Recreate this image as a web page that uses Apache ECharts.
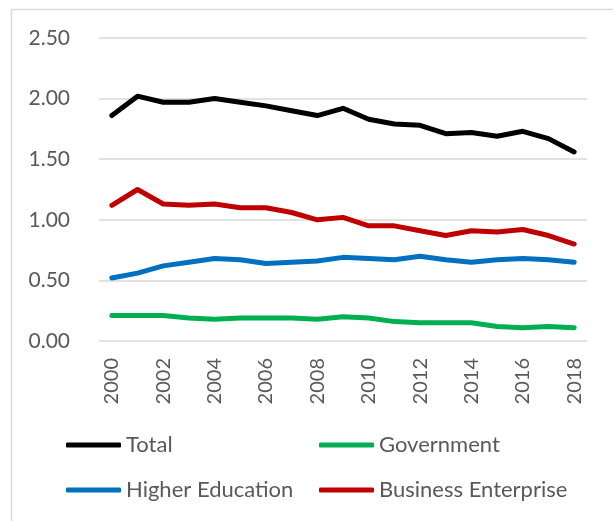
<!DOCTYPE html>
<html>
<head>
<meta charset="utf-8">
<script src="https://cdn.jsdelivr.net/npm/echarts@6/dist/echarts.min.js"></script>
<style>
  html, body { margin: 0; padding: 0; background: #ffffff; }
  #chart { width: 613px; height: 521px; }
</style>
</head>
<body>
<div id="chart"></div>
<script>
// R&D expenditure by sector (% of GDP), 2000–2018
const years = ['2000','2001','2002','2003','2004','2005','2006','2007','2008','2009',
               '2010','2011','2012','2013','2014','2015','2016','2017','2018'];
const total      = [1.86,2.02,1.97,1.97,2.00,1.97,1.94,1.90,1.86,1.92,1.83,1.79,1.78,1.71,1.72,1.69,1.73,1.67,1.56];
const government = [0.21,0.21,0.21,0.19,0.18,0.19,0.19,0.19,0.18,0.20,0.19,0.16,0.15,0.15,0.15,0.12,0.11,0.12,0.11];
const higherEd   = [0.52,0.56,0.62,0.65,0.68,0.67,0.64,0.65,0.66,0.69,0.68,0.67,0.70,0.67,0.65,0.67,0.68,0.67,0.65];
const business   = [1.12,1.25,1.13,1.12,1.13,1.10,1.10,1.06,1.00,1.02,0.95,0.95,0.91,0.87,0.91,0.90,0.92,0.87,0.80];
const yTicks = { min: 0, max: 2.5, interval: 0.5 };

const FONT = 'Lato';
const TEXT = '#595959';
const FRAME = '#d9d9d9';

const seriesDefs = [
  { name: 'Total', data: total, color: '#000000' },
  { name: 'Government', data: government, color: '#00B050' },
  { name: 'Higher Education', data: higherEd, color: '#0070C0' },
  { name: 'Business Enterprise', data: business, color: '#C00000' }
];

const legendBase = {
  orient: 'vertical',
  top: 434,
  padding: 0,
  itemWidth: 55,
  itemHeight: 5,
  itemGap: 23,
  icon: 'roundRect',
  textStyle: { fontFamily: FONT, fontSize: 22, color: TEXT, lineHeight: 22 }
};

const chart = echarts.init(document.getElementById('chart'), null, { renderer: 'canvas' });
chart.setOption({
  animation: false,
  backgroundColor: '#ffffff',
  grid: { left: 99, right: 26, top: 38, bottom: 180, containLabel: false },
  legend: [
    Object.assign({}, legendBase, { left: 66, data: ['Total', 'Higher Education'] }),
    Object.assign({}, legendBase, { left: 319, data: ['Government', 'Business Enterprise'] })
  ],
  xAxis: {
    type: 'category',
    data: years,
    boundaryGap: true,
    axisLine: { show: false },
    axisTick: { show: false },
    axisLabel: {
      rotate: 90, interval: 1, margin: 17,
      fontFamily: FONT, fontSize: 20, color: TEXT
    }
  },
  yAxis: {
    type: 'value',
    min: yTicks.min, max: yTicks.max, interval: yTicks.interval,
    axisLine: { show: false },
    axisTick: { show: false },
    splitLine: { lineStyle: { color: FRAME, width: 1.5 } },
    axisLabel: {
      margin: 29, fontFamily: FONT, fontSize: 21, color: TEXT,
      formatter: v => v.toFixed(2)
    }
  },
  series: seriesDefs.map(s => ({
    name: s.name,
    type: 'line',
    data: s.data,
    symbol: 'none',
    smooth: false,
    lineStyle: { color: s.color, width: 5, cap: 'round', join: 'round' },
    itemStyle: { color: s.color }
  })),
  // chart-area frame: left and top edges
  graphic: [
    { type: 'line', shape: { x1: 11.5, y1: 9, x2: 11.5, y2: 521 }, style: { stroke: FRAME, lineWidth: 1.5 } },
    { type: 'line', shape: { x1: 11, y1: 9.5, x2: 613, y2: 9.5 }, style: { stroke: FRAME, lineWidth: 1.5 } }
  ]
});
</script>
</body>
</html>
